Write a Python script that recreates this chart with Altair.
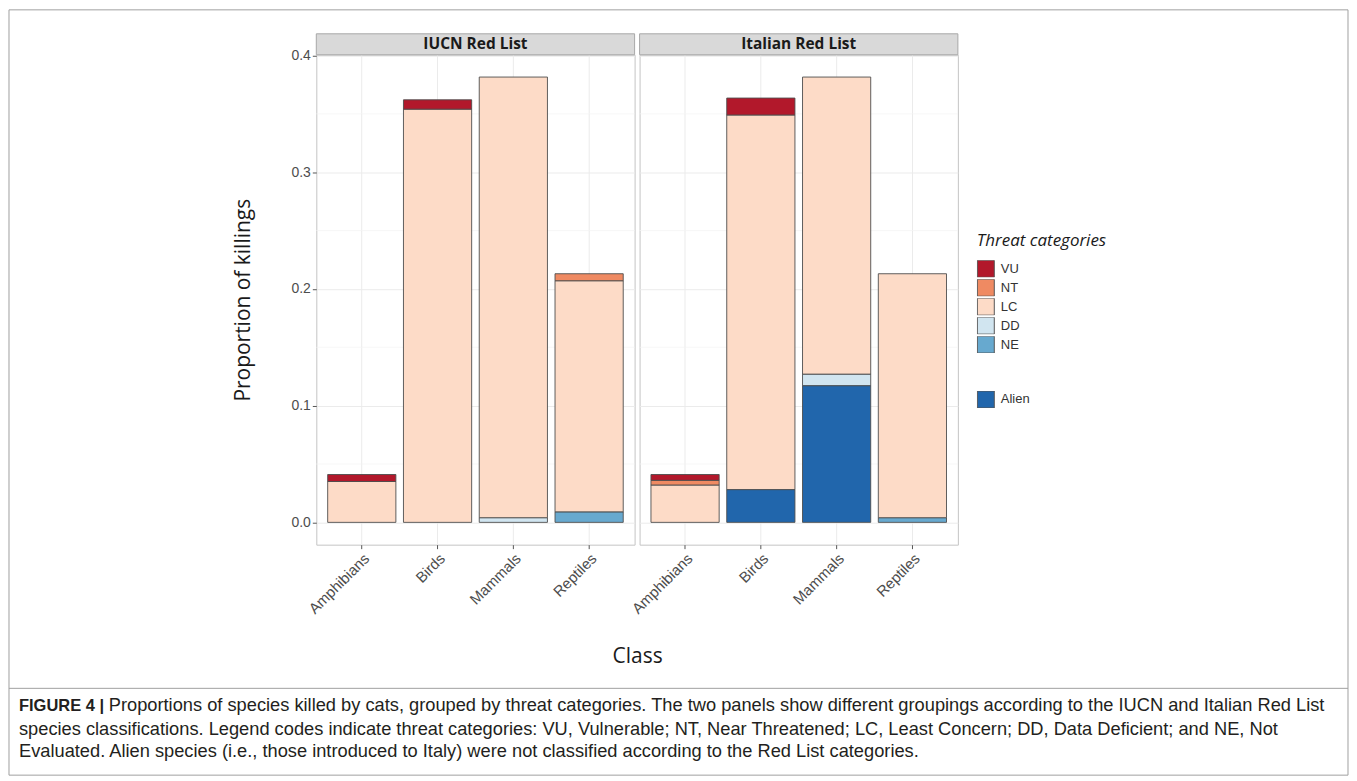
import altair as alt
import pandas as pd

# ---------------- data ----------------
panels = ["IUCN Red List", "Italian Red List"]
classes = ["Amphibians", "Birds", "Mammals", "Reptiles"]

threat_cats = ["VU", "NT", "LC", "DD", "NE"]
threat_colors = ["#B2182B", "#EF8A62", "#FDDBC7", "#D1E5F0", "#67A9CF"]
alien_cats = ["Alien"]
alien_colors = ["#2166AC"]
stack_order = ["Alien", "NE", "DD", "LC", "NT", "VU"]

iucn_class = ["Amphibians", "Amphibians", "Birds", "Birds", "Mammals", "Mammals",
              "Reptiles", "Reptiles", "Reptiles"]
iucn_cat = ["LC", "VU", "LC", "VU", "DD", "LC", "NE", "LC", "NT"]
iucn_value = [0.035, 0.006, 0.354, 0.008, 0.004, 0.3775, 0.009, 0.198, 0.006]

italy_class = ["Amphibians", "Amphibians", "Amphibians", "Birds", "Birds", "Birds",
               "Mammals", "Mammals", "Mammals", "Reptiles", "Reptiles"]
italy_cat = ["LC", "NT", "VU", "Alien", "LC", "VU", "Alien", "DD", "LC", "NE", "LC"]
italy_value = [0.032, 0.004, 0.005, 0.028, 0.321, 0.0145, 0.117, 0.010, 0.2545, 0.004, 0.209]

y_ticks = [0.0, 0.1, 0.2, 0.3, 0.4]
y_minor = [0.05, 0.15, 0.25, 0.35]
y_domain = [-0.0191, 0.4006]

y_title = "Proportion of killings"
x_title = "Class"
legend_title = "Threat categories"

caption_bold = "FIGURE 4 |"
caption_line1 = ("Proportions of species killed by cats, grouped by threat categories. "
                 "The two panels show different groupings according to the IUCN and Italian Red List")
caption_line2 = ("species classifications. Legend codes indicate threat categories: VU, Vulnerable; "
                 "NT, Near Threatened; LC, Least Concern; DD, Data Deficient; and NE, Not")
caption_line3 = ("Evaluated. Alien species (i.e., those introduced to Italy) were not classified "
                 "according to the Red List categories.")

# ---------------- layout constants ----------------
W, H = 319, 491
SANS = "Liberation Sans"
HUM = "Open Sans"

iucn_df = pd.DataFrame({"cls": iucn_class, "cat": iucn_cat, "value": iucn_value})
italy_df = pd.DataFrame({"cls": italy_class, "cat": italy_cat, "value": italy_value})

order_expr = "indexof(" + str(stack_order) + ", datum.cat)"

yscale = alt.Scale(domain=y_domain, nice=False, zero=False)
xscale = alt.Scale(domain=classes, paddingInner=0.1, paddingOuter=0.15)

threat_legend = alt.Legend(
    title=legend_title, orient="none", legendX=662, legendY=179,
    symbolType="square", symbolSize=289, symbolStrokeColor="#555555",
    symbolStrokeWidth=1, rowPadding=2, clipHeight=17, titlePadding=10, labelOffset=6,
)
alien_legend = alt.Legend(
    title=None, orient="none", legendX=662, legendY=337,
    symbolType="square", symbolSize=289, symbolStrokeColor="#555555",
    symbolStrokeWidth=1, clipHeight=17, labelOffset=6,
)


def make_panel(df, name, first):
    base = alt.Chart(df).transform_calculate(
        order=order_expr
    ).transform_stack(
        stack="value", groupby=["cls"], as_=["y0", "y1"],
        sort=[alt.SortField("order", order="ascending")],
    )
    if first:
        yaxis = alt.Axis(values=y_ticks, format=".1f", title=y_title, grid=True,
                         tickSize=4, labelPadding=2, titlePadding=37)
        xaxis = alt.Axis(title=x_title, labelAngle=315, labelAlign="right",
                         labelBaseline="top", bandPosition=0.5, grid=True,
                         labelFontSize=15, tickSize=4, labelPadding=2,
                         titleX=321.5, titleY=112,
                         titleBaseline="middle", titleAlign="center")
    else:
        yaxis = alt.Axis(values=y_ticks, title=None, labels=False, ticks=False,
                         grid=True)
        xaxis = alt.Axis(title=None, labelAngle=315, labelAlign="right",
                         labelBaseline="top", bandPosition=0.5, grid=True,
                         labelFontSize=15, tickSize=4, labelPadding=2)

    minor = alt.Chart(pd.DataFrame({"v": y_minor})).mark_rule(
        color="#F4F4F4", strokeWidth=0.7
    ).encode(y=alt.Y("v:Q", scale=yscale, axis=yaxis), x=alt.value(0), x2=alt.value(W))

    threat = base.transform_filter(
        alt.FieldOneOfPredicate(field="cat", oneOf=threat_cats)
    ).mark_bar(stroke="#4D4D4D", strokeWidth=0.9).encode(
        x=alt.X("cls:N", scale=xscale, axis=xaxis, sort=classes),
        y=alt.Y("y0:Q", scale=yscale),
        y2="y1:Q",
        color=alt.Color("cat:N", scale=alt.Scale(domain=threat_cats, range=threat_colors),
                        legend=threat_legend),
    )
    layers = [minor, threat]
    if "Alien" in list(df["cat"]):
        alien = base.transform_filter(
            alt.FieldOneOfPredicate(field="cat", oneOf=alien_cats)
        ).mark_bar(stroke="#4D4D4D", strokeWidth=0.9).encode(
            x=alt.X("cls:N", scale=xscale, sort=classes),
            y=alt.Y("y0:Q", scale=yscale),
            y2="y1:Q",
            fill=alt.Fill("cat:N", scale=alt.Scale(domain=alien_cats, range=alien_colors),
                          legend=alien_legend),
        )
        layers.append(alien)

    strip_df = pd.DataFrame({"panel": [name]})
    strip = alt.Chart(strip_df).mark_rect(
        fill="#D9D9D9", stroke="#A8A8A8", strokeWidth=1
    ).encode(x=alt.value(0), x2=alt.value(W), y=alt.value(-21), y2=alt.value(0))
    strip_text = alt.Chart(strip_df).mark_text(
        font=HUM, fontSize=15.5, fontWeight="bold", color="#1A1A1A", baseline="middle"
    ).encode(x=alt.value(W / 2), y=alt.value(-10.5), text="panel:N")
    layers += [strip, strip_text]

    if first:
        one = pd.DataFrame({"k": [0]})
        frame = alt.Chart(one).mark_rect(
            fill="white", fillOpacity=0, stroke="#A0A0A0", strokeWidth=1
        ).encode(x=alt.value(-308), x2=alt.value(1034), y=alt.value(-45), y2=alt.value(722))
        sep = alt.Chart(one).mark_rule(color="#A0A0A0", strokeWidth=1).encode(
            x=alt.value(-308), x2=alt.value(1034), y=alt.value(635))
        cap_font = dict(font=SANS, color="#231F20", align="left", baseline="middle")
        c_bold = alt.Chart(pd.DataFrame({"t": [caption_bold]})).mark_text(
            fontWeight="bold", fontSize=16.5, **cap_font).encode(
            x=alt.value(-298), y=alt.value(653), text="t:N")
        c1 = alt.Chart(pd.DataFrame({"t": [caption_line1]})).mark_text(
            fontSize=18.3, **cap_font).encode(x=alt.value(-208), y=alt.value(653), text="t:N")
        c2 = alt.Chart(pd.DataFrame({"t": [caption_line2]})).mark_text(
            fontSize=18.3, **cap_font).encode(x=alt.value(-298), y=alt.value(677), text="t:N")
        c3 = alt.Chart(pd.DataFrame({"t": [caption_line3]})).mark_text(
            fontSize=18.3, **cap_font).encode(x=alt.value(-298), y=alt.value(699), text="t:N")
        layers += [frame, sep, c_bold, c1, c2, c3]

    return alt.layer(*layers).properties(width=W, height=H)


p1 = make_panel(iucn_df, panels[0], True)
p2 = make_panel(italy_df, panels[1], False)

chart = alt.hconcat(p1, p2, spacing=5, bounds="flush").properties(
    padding=0
).configure_view(
    stroke="#C4C4C4", strokeWidth=1, fill="white"
).configure_axis(
    labelFont=SANS, labelFontSize=14, labelColor="#4D4D4D",
    titleFont=HUM, titleFontSize=21, titleFontWeight="normal", titleColor="#1A1A1A",
    gridColor="#EBEBEB", gridWidth=1, tickColor="#555555", domain=False,
).configure_legend(
    labelFont=SANS, labelFontSize=13, labelColor="#333333",
    titleFont=HUM, titleFontSize=17, titleFontStyle="italic", titleFontWeight="normal",
    titleColor="#1A1A1A",
)

chart.save("out.html", embed_options={"renderer": "svg", "actions": False})
